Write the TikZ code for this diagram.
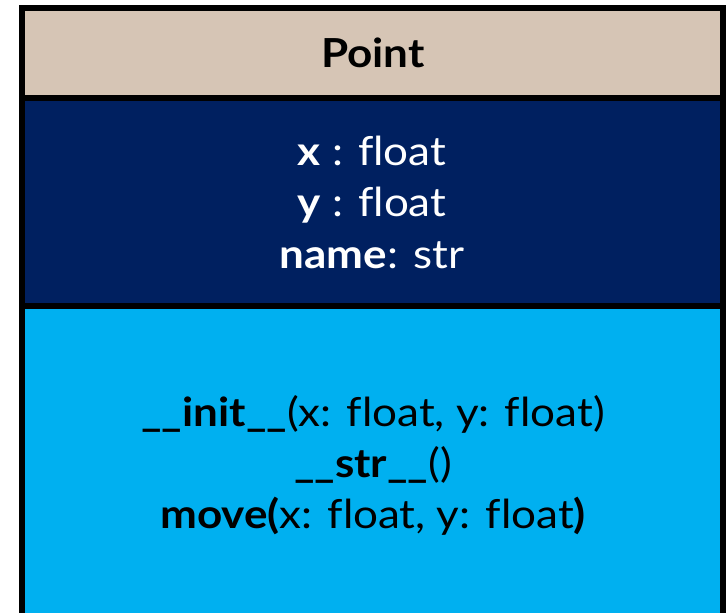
\documentclass[tikz,border=0pt]{standalone}
\usepackage{fontspec}
\setmainfont{Lato}[FakeStretch=1.1,Ligatures=NoCommon]
\definecolor{headbeige}{HTML}{D6C5B5}
\definecolor{attrnavy}{HTML}{002060}
\definecolor{methblue}{HTML}{00B0F0}
\begin{document}
\begin{tikzpicture}[x=1pt,y=-1pt,
  frame/.style={draw=black,line width=6pt},
  txt/.style={anchor=base,inner sep=0pt,font=\fontsize{40}{48}\selectfont},
  lighttxt/.style={txt,text=white},
  darktxt/.style={txt,text=black}]
  \useasboundingbox (0,0) rectangle (726,613);
  % class compartments
  \fill[headbeige] (22,8) rectangle (723,98);
  \fill[attrnavy] (22,98) rectangle (723,306);
  \fill[methblue] (22,306) rectangle (723,640);
  \draw[frame] (22,640) -- (22,8) -- (723,8) -- (723,640);
  \draw[frame] (22,98) -- (723,98);
  \draw[frame] (22,306) -- (723,306);
  % class name
  \node[darktxt] (name) at (373,67) {\textbf{Point}};
  % attributes
  \node[lighttxt] (ax) at (372,165) {\textbf{x} : float};
  \node[lighttxt] (ay) at (372,216) {\textbf{y} : float};
  \node[lighttxt] (an) at (372,268) {\textbf{name}: str};
  % methods
  \node[darktxt] (minit) at (373,426) {\textbf{\_\_init\_\_}(x: float, y: float)};
  \node[darktxt] (mstr) at (373,477) {\textbf{\_\_str\_\_}()};
  \node[darktxt] (mmove) at (373,528) {\textbf{move(}x: float, y: float\textbf{)}};
\end{tikzpicture}
\end{document}
